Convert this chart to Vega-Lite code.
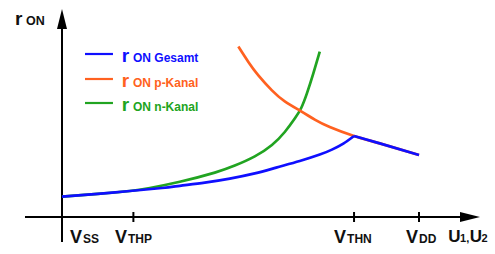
{
  "$schema": "https://vega.github.io/schema/vega-lite/v6.json",
  "width": 495,
  "height": 254,
  "padding": 0,
  "autosize": {"type": "none"},
  "background": "white",
  "config": {"view": {"stroke": null}, "text": {"font": "Liberation Sans", "fontWeight": "bold"}},
  "data": {"values": [{}]},
  "datasets": {
    "curves": [
      {"series": "n-Kanal", "seg": "a", "x": 0, "y": 1.02},
      {"series": "n-Kanal", "seg": "a", "x": 0.5, "y": 1.16},
      {"series": "n-Kanal", "seg": "a", "x": 0.95, "y": 1.3},
      {"series": "n-Kanal", "seg": "a", "x": 1.23, "y": 1.45},
      {"series": "n-Kanal", "seg": "a", "x": 1.65, "y": 1.76},
      {"series": "n-Kanal", "seg": "a", "x": 2.14, "y": 2.22},
      {"series": "n-Kanal", "seg": "a", "x": 2.42, "y": 2.57},
      {"series": "n-Kanal", "seg": "a", "x": 2.7, "y": 3.03},
      {"series": "n-Kanal", "seg": "a", "x": 2.94, "y": 3.6},
      {"series": "n-Kanal", "seg": "a", "x": 3.12, "y": 4.25},
      {"series": "n-Kanal", "seg": "a", "x": 3.26, "y": 4.92},
      {"series": "n-Kanal", "seg": "a", "x": 3.35, "y": 5.45},
      {"series": "n-Kanal", "seg": "a", "x": 3.43, "y": 6.18},
      {"series": "n-Kanal", "seg": "a", "x": 3.52, "y": 7.18},
      {"series": "n-Kanal", "seg": "a", "x": 3.61, "y": 8.27},
      {"series": "p-Kanal", "seg": "a", "x": 2.47, "y": 8.52},
      {"series": "p-Kanal", "seg": "a", "x": 2.61, "y": 7.75},
      {"series": "p-Kanal", "seg": "a", "x": 2.75, "y": 7.08},
      {"series": "p-Kanal", "seg": "a", "x": 2.94, "y": 6.33},
      {"series": "p-Kanal", "seg": "a", "x": 3.12, "y": 5.78},
      {"series": "p-Kanal", "seg": "a", "x": 3.35, "y": 5.28},
      {"series": "p-Kanal", "seg": "a", "x": 3.54, "y": 4.87},
      {"series": "p-Kanal", "seg": "a", "x": 3.75, "y": 4.5},
      {"series": "p-Kanal", "seg": "a", "x": 4.09, "y": 4.05},
      {"series": "p-Kanal", "seg": "a", "x": 4.45, "y": 3.68},
      {"series": "p-Kanal", "seg": "a", "x": 5.0, "y": 3.1},
      {"series": "Gesamt", "seg": "a", "x": 0, "y": 1.02},
      {"series": "Gesamt", "seg": "a", "x": 0.5, "y": 1.16},
      {"series": "Gesamt", "seg": "a", "x": 0.95, "y": 1.3},
      {"series": "Gesamt", "seg": "a", "x": 1.4, "y": 1.45},
      {"series": "Gesamt", "seg": "a", "x": 1.65, "y": 1.56},
      {"series": "Gesamt", "seg": "a", "x": 2.0, "y": 1.72},
      {"series": "Gesamt", "seg": "a", "x": 2.35, "y": 1.92},
      {"series": "Gesamt", "seg": "a", "x": 2.7, "y": 2.18},
      {"series": "Gesamt", "seg": "a", "x": 3.0, "y": 2.47},
      {"series": "Gesamt", "seg": "a", "x": 3.33, "y": 2.8},
      {"series": "Gesamt", "seg": "a", "x": 3.61, "y": 3.12},
      {"series": "Gesamt", "seg": "a", "x": 3.78, "y": 3.37},
      {"series": "Gesamt", "seg": "a", "x": 3.94, "y": 3.67},
      {"series": "Gesamt", "seg": "a", "x": 4.09, "y": 4.05},
      {"series": "Gesamt", "seg": "b", "x": 4.09, "y": 4.05},
      {"series": "Gesamt", "seg": "b", "x": 4.45, "y": 3.68},
      {"series": "Gesamt", "seg": "b", "x": 5.0, "y": 3.1}
    ],
    "ticks": [{"x": 1.0}, {"x": 4.09}, {"x": 5.0}],
    "xlabels": [
      {"sub": "SS", "x": 0.112},
      {"sub": "THP", "x": 0.742},
      {"sub": "THN", "x": 3.81},
      {"sub": "DD", "x": 4.818}
    ],
    "utitle": [
      {"t": "U", "big": true, "x": 5.41},
      {"t": "1,", "big": false, "x": 5.575},
      {"t": "U", "big": true, "x": 5.71},
      {"t": "2", "big": false, "x": 5.875}
    ],
    "legend": [
      {"series": "Gesamt", "label": "ON Gesamt", "ly": 8.15},
      {"series": "p-Kanal", "label": "ON p-Kanal", "ly": 6.9},
      {"series": "n-Kanal", "label": "ON n-Kanal", "ly": 5.7}
    ]
  },
  "layer": [
    {
      "mark": {"type": "rule", "color": "black", "strokeWidth": 2},
      "encoding": {
        "x": {"datum": -0.518, "type": "quantitative", "scale": {"domain": [-0.868, 6.064], "nice": false, "zero": false}, "axis": null},
        "x2": {"datum": 5.66},
        "y": {"datum": 0, "type": "quantitative", "scale": {"domain": [-1.85, 10.85], "nice": false, "zero": false}, "axis": null}
      }
    },
    {
      "mark": {"type": "rule", "color": "black", "strokeWidth": 2},
      "encoding": {
        "x": {"datum": 0, "type": "quantitative"},
        "y": {"datum": -1.25, "type": "quantitative"},
        "y2": {"datum": 9.5}
      }
    },
    {
      "mark": {"type": "point", "shape": "M0,0L0.5,2L-0.5,2Z", "size": 400, "filled": true, "color": "black", "opacity": 1},
      "encoding": {"x": {"datum": 0, "type": "quantitative"}, "y": {"datum": 10.4, "type": "quantitative"}}
    },
    {
      "mark": {"type": "point", "shape": "M0,0L-2,-0.5L-2,0.5Z", "size": 400, "filled": true, "color": "black", "opacity": 1},
      "encoding": {"x": {"datum": 5.854, "type": "quantitative"}, "y": {"datum": 0, "type": "quantitative"}}
    },
    {
      "data": {"name": "ticks"},
      "mark": {"type": "rule", "color": "black", "strokeWidth": 2},
      "encoding": {
        "x": {"field": "x", "type": "quantitative"},
        "y": {"datum": -0.25, "type": "quantitative"},
        "y2": {"datum": 0.25}
      }
    },
    {
      "data": {"name": "curves"},
      "transform": [{"filter": "datum.series === 'n-Kanal'"}],
      "mark": {"type": "line", "strokeWidth": 2.7, "interpolate": "natural"},
      "encoding": {
        "x": {"field": "x", "type": "quantitative"},
        "y": {"field": "y", "type": "quantitative"},
        "color": {"field": "series", "type": "nominal", "scale": {"domain": ["Gesamt", "p-Kanal", "n-Kanal"], "range": ["#0f0fff", "#ff6120", "#21a421"]}, "legend": null}
      }
    },
    {
      "data": {"name": "curves"},
      "transform": [{"filter": "datum.series === 'p-Kanal'"}],
      "mark": {"type": "line", "strokeWidth": 2.7, "interpolate": "natural"},
      "encoding": {
        "x": {"field": "x", "type": "quantitative"},
        "y": {"field": "y", "type": "quantitative"},
        "color": {"field": "series", "type": "nominal", "legend": null}
      }
    },
    {
      "data": {"name": "curves"},
      "transform": [{"filter": "datum.series === 'Gesamt'"}],
      "mark": {"type": "line", "strokeWidth": 2.7, "interpolate": "natural"},
      "encoding": {
        "x": {"field": "x", "type": "quantitative"},
        "y": {"field": "y", "type": "quantitative"},
        "detail": {"field": "seg"},
        "color": {"field": "series", "type": "nominal", "legend": null}
      }
    },
    {
      "data": {"name": "legend"},
      "mark": {"type": "rule", "strokeWidth": 2.2},
      "encoding": {
        "x": {"datum": 0.322, "type": "quantitative"},
        "x2": {"datum": 0.714},
        "y": {"field": "ly", "type": "quantitative"},
        "color": {"field": "series", "type": "nominal", "legend": null}
      }
    },
    {
      "data": {"name": "legend"},
      "mark": {"type": "text", "text": "r", "fontSize": 19, "align": "left", "baseline": "alphabetic", "dy": 8},
      "encoding": {
        "x": {"datum": 0.836, "type": "quantitative"},
        "y": {"field": "ly", "type": "quantitative"},
        "color": {"field": "series", "type": "nominal", "legend": null}
      }
    },
    {
      "data": {"name": "legend"},
      "mark": {"type": "text", "fontSize": 12, "align": "left", "baseline": "alphabetic", "dy": 8},
      "encoding": {
        "x": {"datum": 0.994, "type": "quantitative"},
        "y": {"field": "ly", "type": "quantitative"},
        "text": {"field": "label"},
        "color": {"field": "series", "type": "nominal", "legend": null}
      }
    },
    {
      "mark": {"type": "text", "text": "r", "fontSize": 19, "align": "left", "baseline": "alphabetic", "color": "#111"},
      "encoding": {"x": {"datum": -0.658, "type": "quantitative"}, "y": {"datum": 9.6, "type": "quantitative"}}
    },
    {
      "mark": {"type": "text", "text": "ON", "fontSize": 12.5, "align": "left", "baseline": "alphabetic", "color": "#111"},
      "encoding": {"x": {"datum": -0.504, "type": "quantitative"}, "y": {"datum": 9.6, "type": "quantitative"}}
    },
    {
      "data": {"name": "xlabels"},
      "mark": {"type": "text", "text": "V", "fontSize": 18, "align": "left", "baseline": "alphabetic", "color": "#111"},
      "encoding": {"x": {"field": "x", "type": "quantitative"}, "y": {"datum": -1.3, "type": "quantitative"}}
    },
    {
      "data": {"name": "xlabels"},
      "mark": {"type": "text", "fontSize": 12, "align": "left", "baseline": "alphabetic", "dx": 13, "color": "#111"},
      "encoding": {"x": {"field": "x", "type": "quantitative"}, "y": {"datum": -1.3, "type": "quantitative"}, "text": {"field": "sub"}}
    },
    {
      "data": {"name": "utitle"},
      "transform": [{"filter": "datum.big"}],
      "mark": {"type": "text", "fontSize": 17, "align": "left", "baseline": "alphabetic", "color": "#111"},
      "encoding": {"x": {"field": "x", "type": "quantitative"}, "y": {"datum": -1.25, "type": "quantitative"}, "text": {"field": "t"}}
    },
    {
      "data": {"name": "utitle"},
      "transform": [{"filter": "!datum.big"}],
      "mark": {"type": "text", "fontSize": 11, "align": "left", "baseline": "alphabetic", "color": "#111"},
      "encoding": {"x": {"field": "x", "type": "quantitative"}, "y": {"datum": -1.25, "type": "quantitative"}, "text": {"field": "t"}}
    }
  ]
}
